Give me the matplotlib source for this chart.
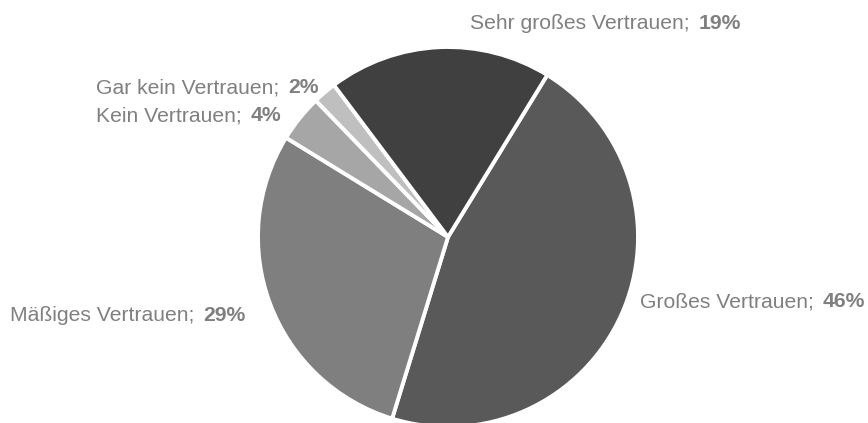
import matplotlib
matplotlib.use("Agg")
import matplotlib.pyplot as plt

# data
labels = ["Großes Vertrauen", "Mäßiges Vertrauen", "Kein Vertrauen",
          "Gar kein Vertrauen", "Sehr großes Vertrauen"]
shares = [46, 29, 4, 2, 19]
colors = ["#595959", "#7f7f7f", "#a6a6a6", "#bfbfbf", "#404040"]

# label anchor points (left, bottom) in pixel coords, y measured from top
label_pos = [(640, 311), (10, 325), (96, 125), (96, 97), (470, 33)]

plt.rcParams['font.family'] = ['Liberation Sans', 'DejaVu Sans']

W, H = 868, 423
fig = plt.figure(figsize=(W / 100, H / 100), dpi=100)
ax = fig.add_axes([0, 0, 1, 1])

cx, cy, r = 448, 237, 190
ax.pie(shares, colors=colors, center=(cx, H - cy), radius=r,
       startangle=58.5, counterclock=False,
       wedgeprops=dict(edgecolor='white', linewidth=2.8))
ax.set_xlim(0, W)
ax.set_ylim(0, H)
ax.set_aspect('equal')
ax.axis('off')

txtcol = "#808080"
fs = 15.2
for lab, val, (x, y) in zip(labels, shares, label_pos):
    t = ax.text(x, H - y, lab + ";", fontsize=fs, color=txtcol,
                ha='left', va='bottom')
    ax.annotate(f"{val}%", xy=(1, 0), xycoords=t, xytext=(6.5, 0),
                textcoords='offset points', fontsize=fs, color=txtcol,
                fontweight='bold', ha='left', va='bottom')

fig.savefig("out.png", dpi=100)
